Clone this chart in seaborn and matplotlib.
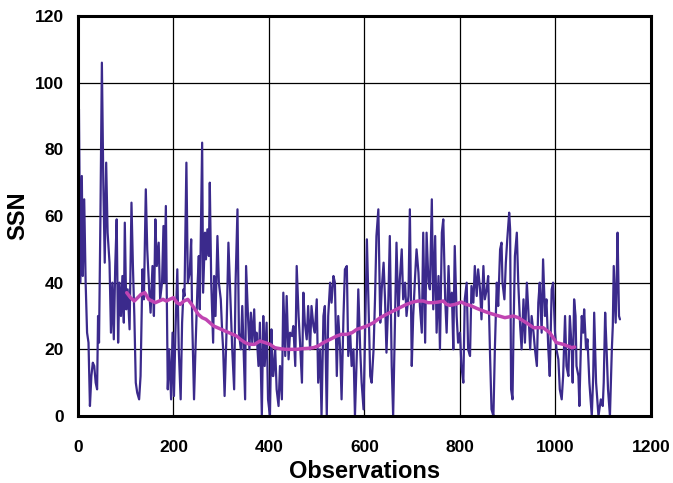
import matplotlib
matplotlib.use("Agg")
import pandas as pd
import seaborn as sns
from matplotlib import pyplot as plt

# sunspot number, raw observations
obs = [
    0, 2, 5, 8, 10, 13, 16, 19, 22, 25, 28, 31, 34, 37, 40, 42, 44, 47, 50, 53,
    56, 59, 62, 66, 69, 72, 75, 78, 81, 84, 87, 90, 93, 96, 98, 101, 104, 108, 110, 112,
    115, 118, 121, 124, 128, 131, 135, 138, 142, 145, 149, 152, 156, 159, 162, 165, 169, 172, 176, 179,
    181, 184, 188, 191, 195, 198, 201, 204, 208, 211, 215, 218, 221, 223, 227, 230, 234, 237, 239, 243,
    246, 250, 253, 255, 260, 262, 266, 268, 271, 274, 276, 279, 283, 285, 288, 292, 295, 299, 302, 304,
    307, 311, 315, 318, 323, 327, 330, 334, 337, 341, 344, 348, 350, 352, 356, 359, 362, 365, 369, 371,
    374, 378, 381, 385, 388, 391, 395, 398, 402, 405, 408, 409, 413, 416, 420, 423, 427, 430, 434, 437,
    441, 444, 448, 451, 455, 458, 462, 465, 469, 472, 475, 479, 482, 486, 489, 493, 496, 500, 503, 507,
    510, 514, 517, 521, 524, 528, 531, 535, 538, 542, 545, 549, 552, 556, 559, 563, 566, 570, 573, 577,
    580, 584, 587, 591, 594, 598, 601, 605, 608, 612, 615, 619, 622, 625, 629, 633, 636, 640, 643, 646,
    650, 653, 657, 660, 664, 667, 671, 674, 678, 681, 685, 688, 692, 695, 699, 702, 706, 709, 713, 716,
    720, 723, 727, 730, 734, 737, 741, 744, 748, 751, 755, 758, 762, 765, 769, 772, 776, 779, 783, 786,
    789, 793, 796, 800, 803, 807, 810, 814, 817, 821, 824, 828, 831, 835, 838, 842, 845, 849, 852, 856,
    859, 863, 866, 870, 873, 877, 880, 884, 887, 889, 893, 896, 899, 903, 905, 907, 910, 912, 915, 919,
    922, 926, 929, 933, 936, 940, 943, 947, 950, 954, 957, 961, 964, 967, 971, 974, 978, 981, 985, 988,
    992, 995, 999, 1002, 1006, 1009, 1013, 1016, 1020, 1023, 1027, 1030, 1034, 1036, 1039, 1042, 1044, 1048, 1050, 1053,
    1055, 1058, 1060, 1064, 1067, 1071, 1076, 1079, 1081, 1085, 1090, 1095, 1099, 1101, 1104, 1107, 1110, 1114, 1118, 1120,
    1122, 1126, 1128, 1130, 1133, 1135,
]
ssn = [
    88, 92, 40, 72, 42, 65, 40, 25, 22, 3, 12, 16, 15, 10, 8, 30, 22, 60, 106, 70,
    46, 76, 55, 46, 25, 40, 23, 45, 59, 22, 40, 30, 42, 28, 58, 32, 38, 26, 46, 64,
    45, 30, 10, 7, 5, 12, 44, 35, 68, 50, 38, 31, 45, 30, 59, 45, 52, 35, 40, 57,
    40, 63, 8, 20, 5, 25, 6, 25, 44, 20, 5, 28, 38, 36, 76, 40, 43, 53, 30, 5,
    20, 38, 48, 32, 82, 37, 55, 47, 56, 48, 70, 40, 22, 42, 30, 54, 40, 35, 25, 20,
    6, 25, 52, 40, 20, 8, 40, 62, 25, 20, 33, 15, 5, 45, 30, 20, 31, 22, 32, 22,
    25, 15, 28, 0, 30, 15, 28, 5, 0, 26, 12, 12, 20, 8, 3, 15, 5, 37, 18, 36,
    17, 25, 24, 27, 15, 45, 30, 22, 10, 37, 28, 23, 33, 20, 33, 27, 25, 35, 10, 20,
    0, 30, 33, 0, 30, 40, 34, 42, 40, 12, 30, 20, 5, 30, 44, 45, 18, 25, 15, 20,
    0, 19, 38, 20, 10, 2, 23, 53, 36, 12, 10, 20, 35, 54, 62, 28, 38, 46, 35, 19,
    35, 54, 15, 0, 30, 52, 30, 41, 50, 35, 40, 30, 36, 62, 15, 30, 42, 50, 43, 33,
    25, 55, 22, 55, 40, 38, 65, 32, 54, 25, 42, 20, 55, 59, 35, 25, 45, 33, 37, 20,
    51, 30, 22, 25, 15, 10, 35, 40, 20, 18, 39, 34, 45, 36, 44, 38, 29, 45, 35, 38,
    42, 18, 2, 0, 20, 40, 33, 50, 52, 40, 35, 46, 53, 61, 56, 8, 5, 25, 48, 55,
    40, 27, 20, 35, 22, 40, 32, 20, 30, 25, 20, 15, 34, 40, 25, 47, 30, 35, 20, 12,
    38, 40, 25, 20, 17, 8, 5, 12, 30, 15, 12, 30, 20, 10, 35, 30, 15, 12, 3, 20,
    30, 25, 32, 20, 23, 10, 0, 12, 31, 10, 0, 5, 3, 10, 31, 20, 8, 0, 20, 27,
    45, 28, 40, 55, 30, 29,
]

# smoothed curve
obs_avg = [
    102, 110, 118, 125, 132, 140, 148, 155, 162, 170, 178, 185, 192, 200, 207, 214, 222, 230, 238, 245,
    252, 260, 268, 276, 284, 292, 300, 308, 316, 324, 332, 340, 350, 360, 370, 381, 392, 402, 412, 423,
    435, 446, 458, 470, 482, 493, 503, 514, 528, 542, 552, 563, 574, 584, 595, 605, 619, 633, 646, 660,
    674, 688, 702, 712, 723, 733, 744, 755, 765, 772, 779, 790, 803, 812, 821, 835, 849, 863, 877, 894,
    912, 922, 933, 944, 954, 964, 974, 988, 995, 1002, 1016, 1025, 1034, 1040,
]
ssn_avg = [
    37, 35.5, 34.5, 35.5, 36.5, 37, 35, 34.5, 34, 34.5, 35, 34.5, 35, 35.5, 34, 33.5, 34.5, 35, 33.5, 32,
    30.5, 29.5, 29, 28, 27, 26.5, 26, 25.5, 25, 24.5, 24, 23, 22, 21.5, 21.5, 22.5, 22, 21.5, 20.5, 20.2,
    20, 20, 20, 20.2, 20.3, 20.5, 21, 22, 23, 24, 24.5, 24.5, 25, 26, 26.5, 27, 28, 29.5, 30.5, 31.5,
    32.5, 33.5, 34.2, 34.5, 34.5, 34, 34, 34.2, 34.5, 33.5, 33.2, 33.5, 34.2, 33.5, 33.2, 32.3, 31.5, 30.8, 30.2, 29.5,
    30, 29.5, 28.5, 27.5, 26.5, 26.5, 26.5, 25, 23.5, 22, 21.5, 21, 20.5, 20.7,
]

x_ticks = [0, 200, 400, 600, 800, 1000, 1200]
y_ticks = [0, 20, 40, 60, 80, 100, 120]

raw_df = pd.DataFrame({"obs": obs, "ssn": ssn})
avg_df = pd.DataFrame({"obs": obs_avg, "ssn": ssn_avg})

sns.set_style("white")
plt.rcParams["font.family"] = ["Liberation Sans", "DejaVu Sans"]
for key in ["text.color", "axes.labelcolor", "xtick.color", "ytick.color"]:
    plt.rcParams[key] = "black"

fig = plt.figure(figsize=(6.73, 4.83), dpi=100)
ax = fig.add_axes([0.1159, 0.1387, 0.8514, 0.8282])

sns.lineplot(ax=ax, data=raw_df, x="obs", y="ssn", color="#3b2a8c", linewidth=1.6)
sns.lineplot(ax=ax, data=avg_df, x="obs", y="ssn", color="#c044b2", linewidth=2.5)

ax.set_xlim(0, 1200)
ax.set_ylim(0, 120)
ax.set_xticks(x_ticks)
ax.set_yticks(y_ticks)
ax.grid(True, color="black", linewidth=0.9)
ax.set_axisbelow(True)
ax.tick_params(length=0, labelsize=12.5)
ax.tick_params(axis="x", pad=17)
ax.tick_params(axis="y", pad=10)
for lbl in ax.get_xticklabels() + ax.get_yticklabels():
    lbl.set_fontweight("bold")
for side in ax.spines.values():
    side.set_color("black")
    side.set_linewidth(2.2)

ax.set_xlabel("Observations", fontsize=17, fontweight="bold", labelpad=4)
ax.set_ylabel("SSN", fontsize=17, fontweight="bold", labelpad=4)

fig.savefig("out.png", dpi=100)
